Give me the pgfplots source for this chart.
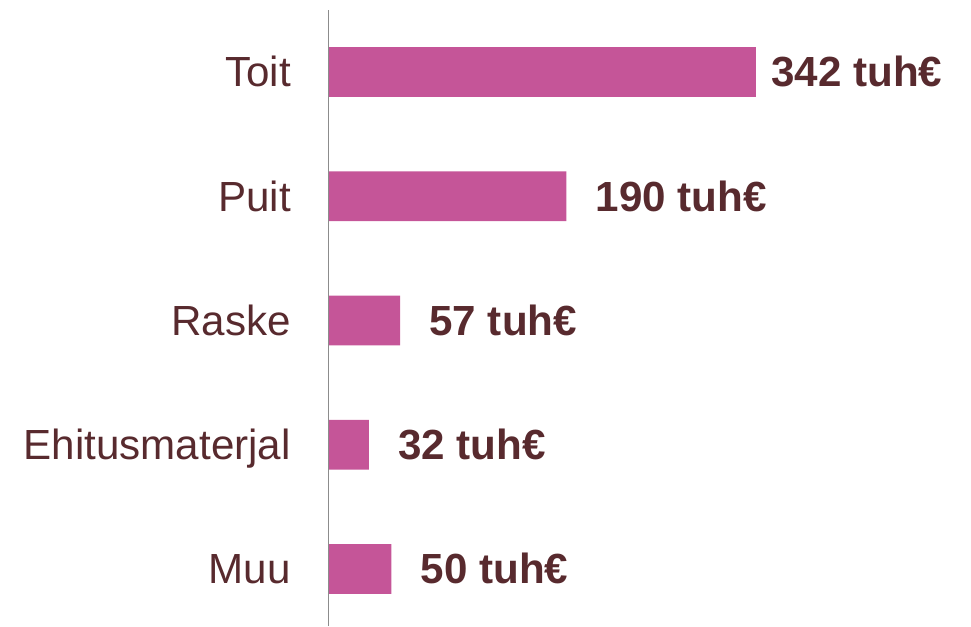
\documentclass[border=0pt]{standalone}
\usepackage{pgfplots}
\pgfplotsset{compat=1.18}
\usepackage{fontspec}
\setmainfont{Liberation Sans}
\definecolor{barpink}{HTML}{C55598}
\definecolor{txtbrown}{HTML}{582A2E}
\begin{document}
\begin{tikzpicture}
\useasboundingbox (0,0) rectangle (728.25pt,469.5pt);
\begin{axis}[
  at={(246.75pt,0pt)}, anchor=south west,
  scale only axis, width=481.5pt, height=462pt,
  xbar, bar width=0.4, bar shift=0pt,
  xmin=0, xmax=514,
  ymin=-0.459, ymax=4.499,
  axis x line=none, axis y line=left,
  y axis line style={draw=none},
  ytick={0,1,2,3,4},
  yticklabels={Muu,Ehitusmaterjal,Raske,Puit,Toit},
  major tick length=0pt,
  xtick=\empty,
  yticklabel style={anchor=base east, inner sep=0pt, xshift=-28.5pt, yshift=-11.25pt,
    font=\fontsize{31.6}{36}\selectfont, text=txtbrown},
  nodes near coords={\pgfmathprintnumber{\pgfplotspointmeta} tuh€},
  nodes near coords style={anchor=base west, inner sep=0pt, xshift=21.75pt, yshift=-11.25pt,
    font=\fontsize{31.6}{36}\selectfont\bfseries, text=txtbrown,
    /pgf/number format/assume math mode=true},
  clip=false,
]
\addplot[fill=barpink, draw=none] coordinates {(50,0) (32,1) (57,2) (190,3)};
\addplot[fill=barpink, draw=none, nodes near coords style={xshift=-10.5pt}] coordinates {(342,4)};
\draw[color=black!45, line width=0.75pt] (rel axis cs:0,0) -- (rel axis cs:0,1);
\end{axis}
\end{tikzpicture}
\end{document}
